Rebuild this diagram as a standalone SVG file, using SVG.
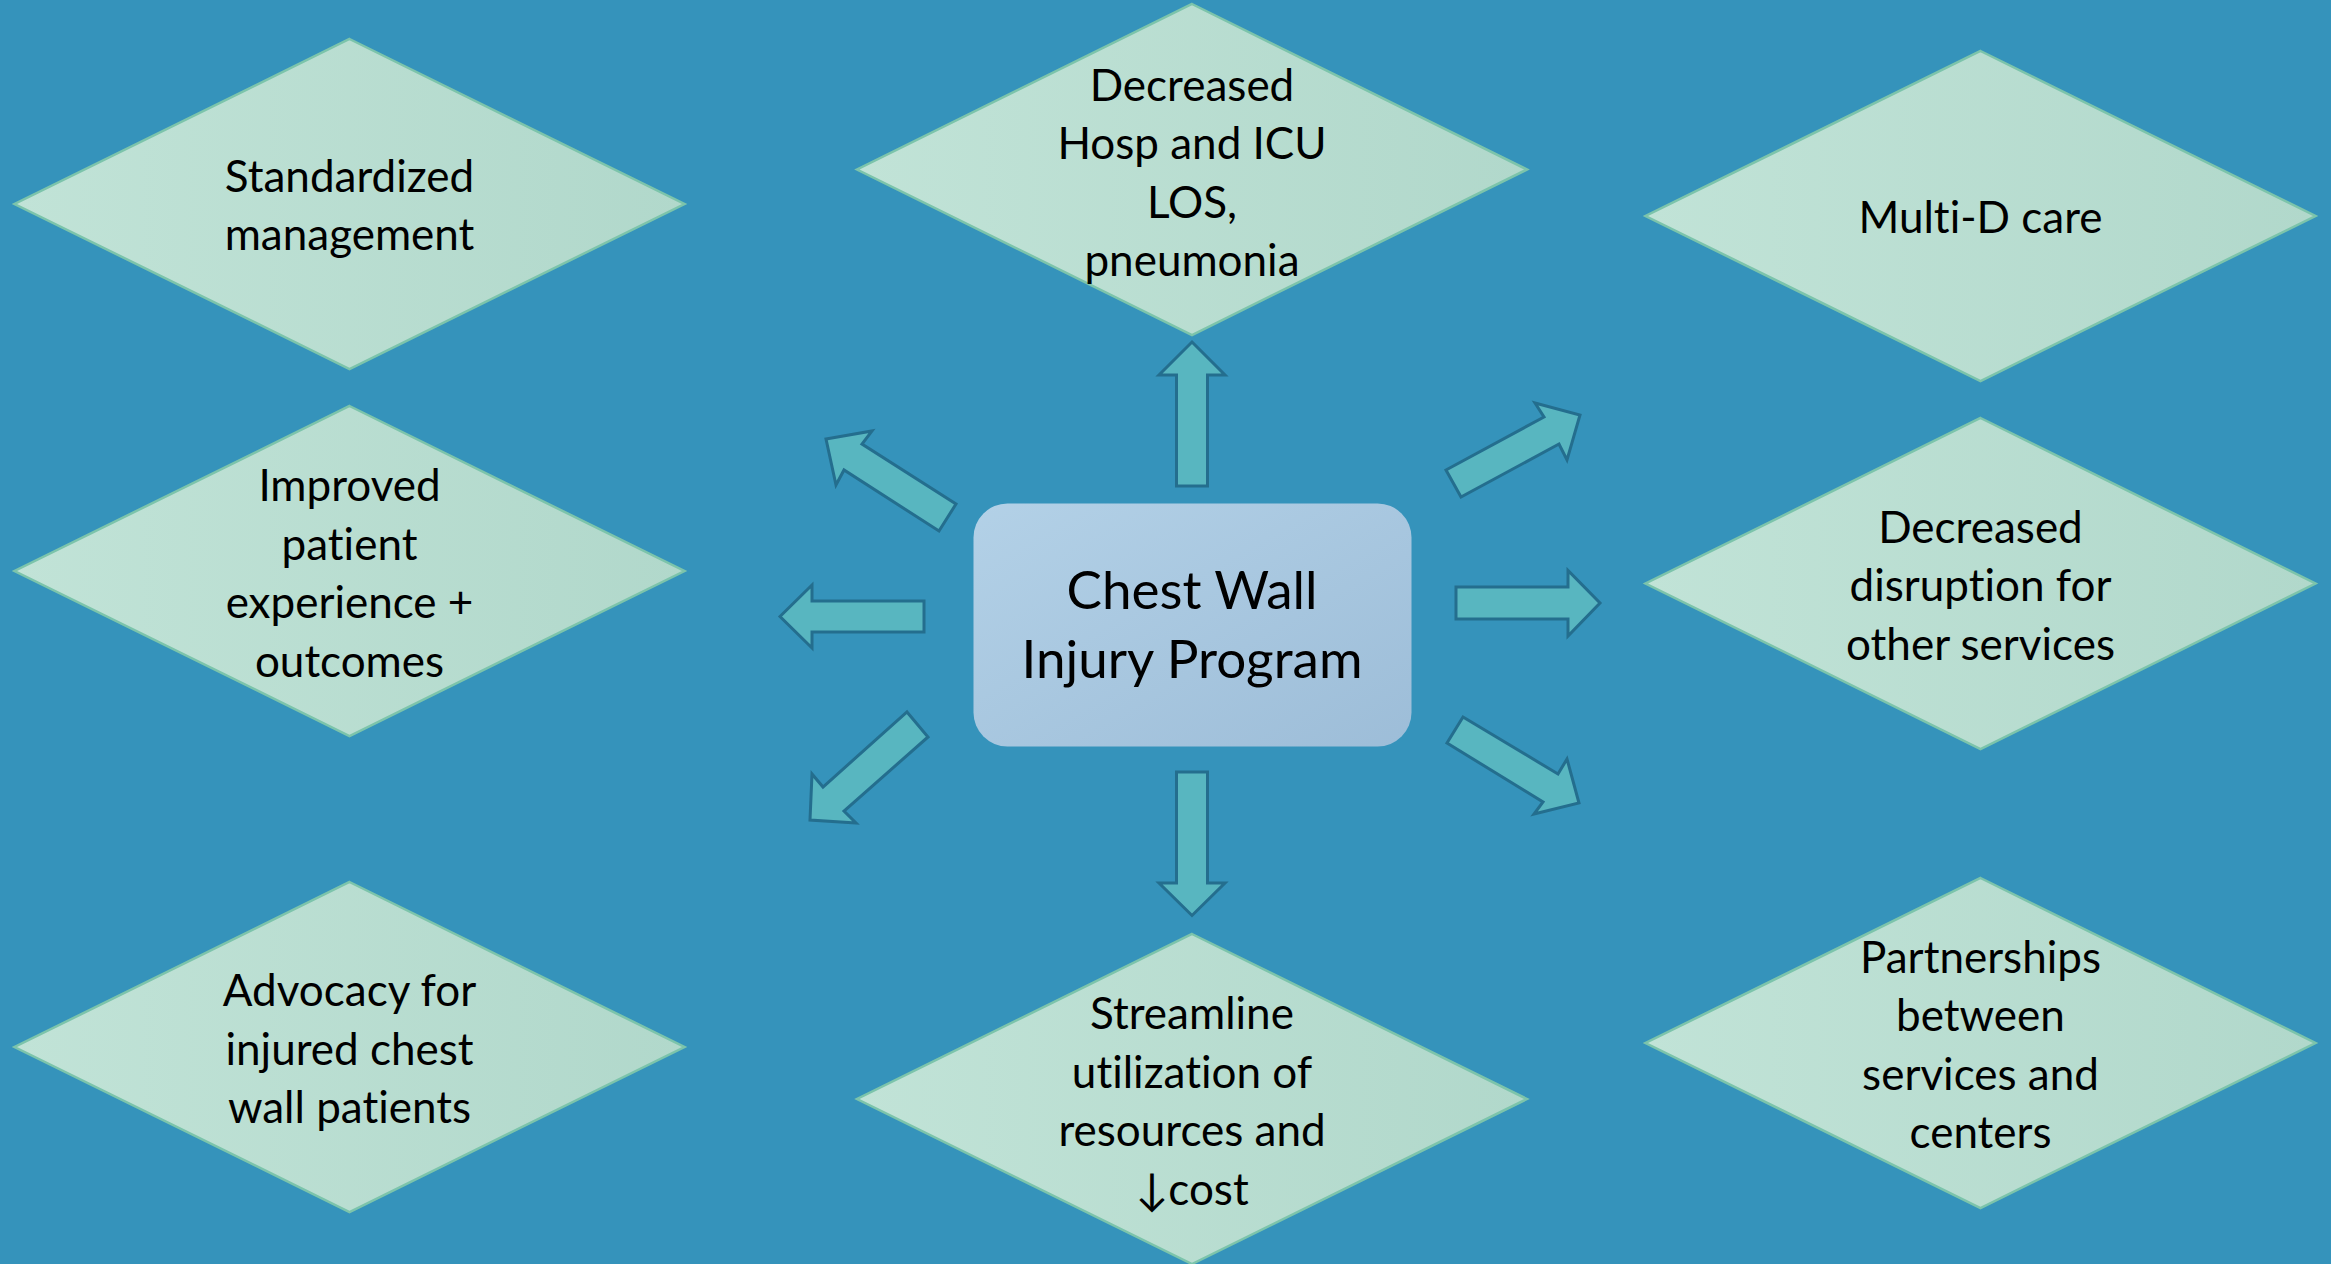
<svg xmlns="http://www.w3.org/2000/svg" width="2331" height="1264" viewBox="0 0 2331 1264">
<defs>
<linearGradient id="gD" x1="0" y1="0" x2="1" y2="0">
<stop offset="0" stop-color="#c1e3d7"/>
<stop offset="1" stop-color="#b1d8cb"/>
</linearGradient>
<linearGradient id="gB" x1="0" y1="0" x2="1" y2="1">
<stop offset="0" stop-color="#b3d1e7"/>
<stop offset="1" stop-color="#9dbdd8"/>
</linearGradient>
<style>
.d{fill:url(#gD);stroke:#7cc4ab;stroke-width:2.5}
.t{font-family:"Lato","Open Sans","Liberation Sans",sans-serif;font-size:44px;fill:#000;text-anchor:middle;font-variant-ligatures:none;font-feature-settings:"liga" 0}
.c{font-family:"Lato","Open Sans","Liberation Sans",sans-serif;font-size:53px;fill:#000;text-anchor:middle;font-variant-ligatures:none;font-feature-settings:"liga" 0}
.a{fill:#58b6c0;stroke:#246e8e;stroke-width:3;stroke-linejoin:miter}
</style>
</defs>
<rect width="2331" height="1264" fill="#3593bb"/>

<g id="node-standardized">
<polygon class="d" points="349.5,39 684.5,204 349.5,369 14.5,204"/>
<text class="t" x="349.5" y="191.5">Standardized</text>
<text class="t" x="349.5" y="250">management</text>
</g>

<g id="node-improved">
<polygon class="d" points="349.5,406 684.5,571 349.5,736 14.5,571"/>
<text class="t" x="349.5" y="501">Improved</text>
<text class="t" x="349.5" y="559.5">patient</text>
<text class="t" x="349.5" y="618">experience +</text>
<text class="t" x="349.5" y="676.5">outcomes</text>
</g>

<g id="node-advocacy">
<polygon class="d" points="349.5,882 684.5,1047 349.5,1212 14.5,1047"/>
<text class="t" x="349.5" y="1006">Advocacy for</text>
<text class="t" x="349.5" y="1064.5">injured chest</text>
<text class="t" x="349.5" y="1123">wall patients</text>
</g>

<g id="node-decreased-hosp">
<polygon class="d" points="1192,4 1527,169.5 1192,335 857,169.5"/>
<text class="t" x="1192" y="100.5">Decreased</text>
<text class="t" x="1192" y="159">Hosp and ICU</text>
<text class="t" x="1192" y="217.5">LOS,</text>
<text class="t" x="1192" y="276">pneumonia</text>
</g>

<g id="node-streamline">
<polygon class="d" points="1192,934 1527,1099 1192,1264 857,1099"/>
<text class="t" x="1192" y="1029">Streamline</text>
<text class="t" x="1192" y="1087.5">utilization of</text>
<text class="t" x="1192" y="1146">resources and</text>
<text class="t" x="1192" y="1204.5">↓cost</text>
</g>

<g id="node-multid">
<polygon class="d" points="1980.5,51 2315.5,216 1980.5,381 1645.5,216"/>
<text class="t" x="1980.5" y="233">Multi-D care</text>
</g>

<g id="node-disruption">
<polygon class="d" points="1980.5,418 2315.5,583.5 1980.5,749 1645.5,583.5"/>
<text class="t" x="1980.5" y="542.5">Decreased</text>
<text class="t" x="1980.5" y="601">disruption for</text>
<text class="t" x="1980.5" y="659.5">other services</text>
</g>

<g id="node-partnerships">
<polygon class="d" points="1980.5,878 2315.5,1043 1980.5,1208 1645.5,1043"/>
<text class="t" x="1980.5" y="972.5">Partnerships</text>
<text class="t" x="1980.5" y="1031">between</text>
<text class="t" x="1980.5" y="1089.5">services and</text>
<text class="t" x="1980.5" y="1148">centers</text>
</g>

<g id="node-center">
<rect x="973.5" y="503.5" width="438" height="243" rx="34" ry="34" fill="url(#gB)"/>
<text class="c" x="1192" y="609">Chest Wall</text>
<text class="c" x="1192" y="678">Injury Program</text>
</g>

<g id="connectors">
<polygon class="a" points="1192,342 1225,375 1207.5,375 1207.5,486 1176.5,486 1176.5,375 1159,375"/>
<polygon class="a" points="1176.5,772 1207.5,772 1207.5,883 1225,883 1192,915.5 1159,883 1176.5,883"/>
<polygon class="a" points="780,616.5 812,585 812,601 924,601 924,632 812,632 812,648"/>
<polygon class="a" points="1456,587 1568,587 1568,570.5 1600,603 1568,636 1568,619 1456,619"/>
<polygon class="a" points="826,439 872,431 862,444 956,504 939,531 844,470 836,485"/>
<polygon class="a" points="1446,470 1544,417 1535,403 1580,415 1567,460 1559,444 1461,497"/>
<polygon class="a" points="907,712 928,737 844,811 856,823 810,820 812,774 823,787"/>
<polygon class="a" points="1463,717 1558,774 1567,759 1579,803 1534,814 1543,802 1447,743"/>
</g>
</svg>
